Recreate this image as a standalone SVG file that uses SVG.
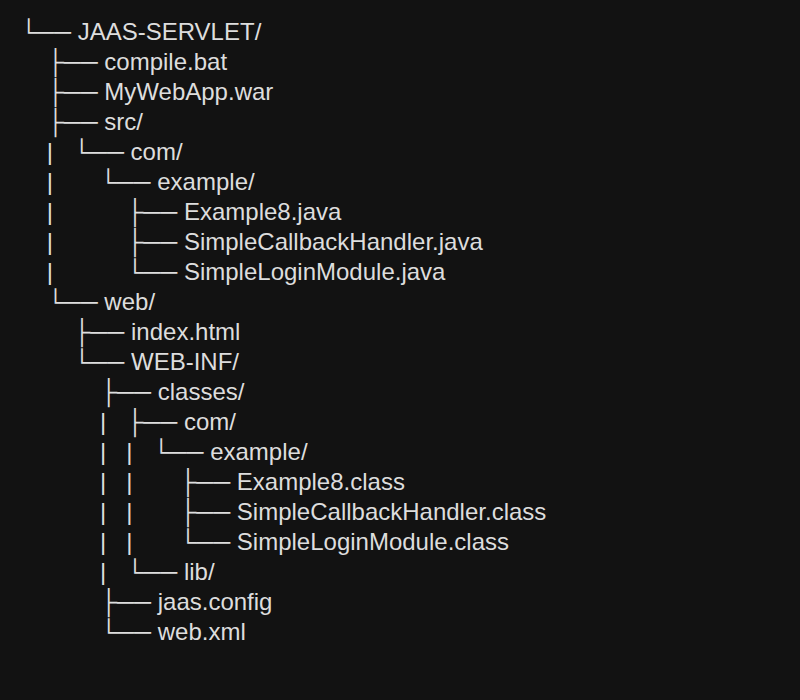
<svg xmlns="http://www.w3.org/2000/svg" width="800" height="700" viewBox="0 0 800 700">
<style>
.t text{font-family:"Liberation Sans",Arial,sans-serif;font-size:24px;fill:#dddddd;white-space:pre;}
</style>
<rect x="0" y="0" width="800" height="700" fill="#121212"/>
<g id="tree" class="t">
<text xml:space="preserve" x="20" y="40">└── JAAS-SERVLET/</text>
<text xml:space="preserve" x="20" y="70">    ├── compile.bat</text>
<text xml:space="preserve" x="20" y="100">    ├── MyWebApp.war</text>
<text xml:space="preserve" x="20" y="130">    ├── src/</text>
<text xml:space="preserve" x="20" y="160">    |   └── com/</text>
<text xml:space="preserve" x="20" y="190">    |       └── example/</text>
<text xml:space="preserve" x="20" y="220">    |           ├── Example8.java</text>
<text xml:space="preserve" x="20" y="250">    |           ├── SimpleCallbackHandler.java</text>
<text xml:space="preserve" x="20" y="280">    |           └── SimpleLoginModule.java</text>
<text xml:space="preserve" x="20" y="310">    └── web/</text>
<text xml:space="preserve" x="20" y="340">        ├── index.html</text>
<text xml:space="preserve" x="20" y="370">        └── WEB-INF/</text>
<text xml:space="preserve" x="20" y="400">            ├── classes/</text>
<text xml:space="preserve" x="20" y="430">            |   ├── com/</text>
<text xml:space="preserve" x="20" y="460">            |   |   └── example/</text>
<text xml:space="preserve" x="20" y="490">            |   |       ├── Example8.class</text>
<text xml:space="preserve" x="20" y="520">            |   |       ├── SimpleCallbackHandler.class</text>
<text xml:space="preserve" x="20" y="550">            |   |       └── SimpleLoginModule.class</text>
<text xml:space="preserve" x="20" y="580">            |   └── lib/</text>
<text xml:space="preserve" x="20" y="610">            ├── jaas.config</text>
<text xml:space="preserve" x="20" y="640">            └── web.xml</text>
</g>
</svg>
